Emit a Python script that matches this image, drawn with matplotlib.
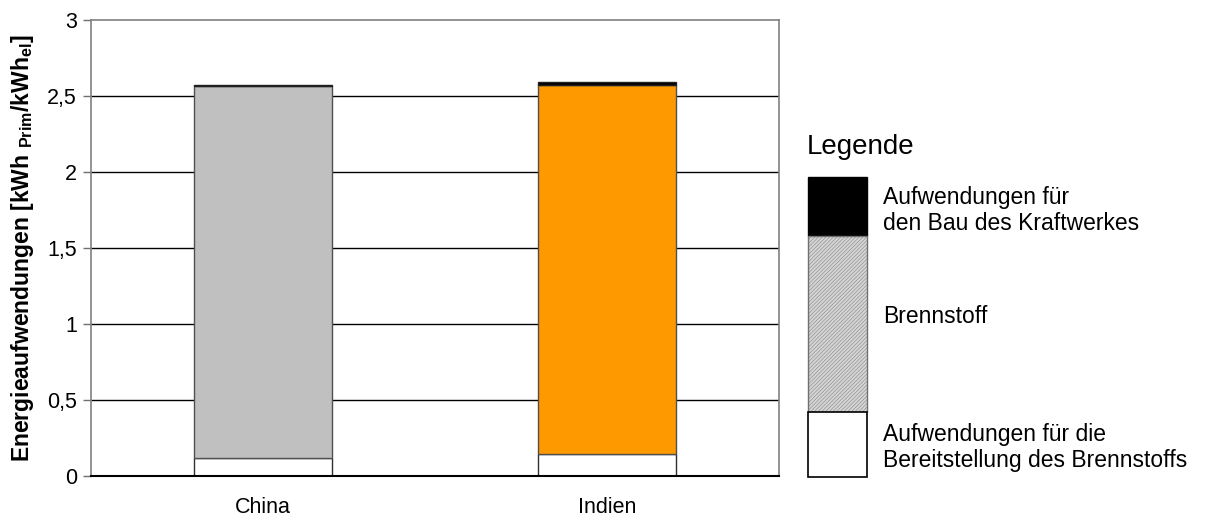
import matplotlib.pyplot as plt
from matplotlib.patches import Rectangle
from matplotlib.ticker import FuncFormatter

plt.rcParams['font.family'] = ['Liberation Sans', 'DejaVu Sans']
plt.rcParams['mathtext.fontset'] = 'custom'
plt.rcParams['mathtext.rm'] = 'Liberation Sans'
plt.rcParams['mathtext.bf'] = 'Liberation Sans:bold'
plt.rcParams['hatch.linewidth'] = 0.3

categories = ['China', 'Indien']
bereitstellung = [0.12, 0.145]
brennstoff = [2.44, 2.425]
bau = [0.012, 0.022]
fuel_colors = ['#c0c0c0', '#ff9900']

fig = plt.figure(figsize=(12.1, 5.22), dpi=100)
ax = fig.add_axes([0.0752, 0.0881, 0.5686, 0.8745])

x = range(len(categories))
width = 0.404
ax.bar(x, bereitstellung, width, color='white', edgecolor='#303030', linewidth=1, zorder=3)
ax.bar(x, brennstoff, width, bottom=bereitstellung, color=fuel_colors,
       edgecolor='#505050', linewidth=1, zorder=3)
tops = [a + b for a, b in zip(bereitstellung, brennstoff)]
ax.bar(x, bau, width, bottom=tops, color='black', edgecolor='#202020', linewidth=1, zorder=3)

ax.set_xlim(-0.5, 1.5)
ax.set_ylim(0, 3)
ax.set_yticks([0, 0.5, 1, 1.5, 2, 2.5, 3])
ax.yaxis.set_major_formatter(FuncFormatter(lambda v, p: ('%g' % v).replace('.', ',')))
ax.set_xticks(list(x))
ax.set_xticklabels(categories)
ax.tick_params(axis='x', length=0, pad=15, labelsize=15.5)
ax.tick_params(axis='y', length=6, width=1, color='#707070', labelsize=15.5, pad=4)
for y in [0.5, 1, 1.5, 2, 2.5]:
    ax.axhline(y, color='black', linewidth=1, zorder=1)
for s in ['left', 'top', 'right']:
    ax.spines[s].set_color('#808080')
    ax.spines[s].set_linewidth(1.2)
ax.spines['bottom'].set_color('black')
ax.spines['bottom'].set_linewidth(1.5)
ax.spines['bottom'].set_zorder(4)

ax.set_ylabel(r'Energieaufwendungen [kWh $_{\mathbf{Prim}}$/kWh$_{\mathbf{el}}$]',
              fontsize=16.5, fontweight='bold', labelpad=8)

# legend drawn as a small stacked column
lx, lw = 0.6675, 0.0488
fig.patches.append(Rectangle((lx, 0.5479), lw, 0.1136, transform=fig.transFigure,
                             facecolor='black', edgecolor='black', linewidth=1))
fig.patches.append(Rectangle((lx, 0.2113), lw, 0.3366, transform=fig.transFigure,
                             facecolor='#d4d4d4', edgecolor='#707070', hatch='/////////',
                             linewidth=1))
fig.patches.append(Rectangle((lx, 0.0868), lw, 0.1245, transform=fig.transFigure,
                             facecolor='white', edgecolor='black', linewidth=1.2))

fig.text(lx - 0.001, 0.718, 'Legende', fontsize=20, va='center', ha='left')
tx = 0.7298
fig.text(tx, 0.597, 'Aufwendungen für\nden Bau des Kraftwerkes', fontsize=16.5,
         va='center', ha='left', linespacing=1.2)
fig.text(tx, 0.393, 'Brennstoff', fontsize=16.5, va='center', ha='left')
fig.text(tx, 0.143, 'Aufwendungen für die\nBereitstellung des Brennstoffs', fontsize=16.5,
         va='center', ha='left', linespacing=1.2)

fig.savefig('out.png', dpi=100)
